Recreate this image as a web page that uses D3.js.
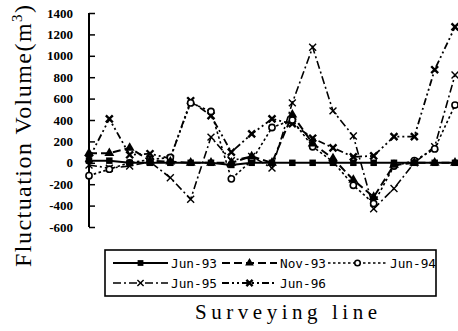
<!DOCTYPE html>
<html>
<head>
<meta charset="utf-8">
<script src="https://cdn.jsdelivr.net/npm/d3@7"></script>
<style>
body{margin:0;background:#fff}
svg{display:block}
</style>
</head>
<body>
<div id="chart"></div>
<script>
// values (m3), 19 surveying lines
let lineIndex=d3.range(19)
let jun93=[20,20,0,0,0,0,0,-20,0,0,0,0,0,0,0,0,0,0,0]
let nov93=[90,90,140,20,10,0,0,0,60,0,450,180,40,-160,-320,-20,0,0,0]
let jun94=[-120,-60,0,30,50,560,480,-150,20,330,400,150,10,-210,-380,-30,20,130,540]
let jun95=[-20,-50,-30,10,-140,-340,240,20,60,-50,560,1080,485,250,-430,-240,0,150,820]
let jun96=[40,410,75,85,40,580,440,100,270,410,365,230,140,55,65,245,245,870,1270]
let yTicks=[1400,1200,1000,800,600,400,200,0,-200,-400,-600]
let seriesNames=["Jun-93","Nov-93","Jun-94","Jun-95","Jun-96"]

const width=458, height=331
const svg=d3.select("#chart").append("svg").attr("width",width).attr("height",height)

let xScale=d3.scaleLinear().domain([0,18]).range([89,455])
let yScale=d3.scaleLinear().domain([-600,1400]).range([227,13])

// y axis with inward ticks
let yAxis=d3.axisRight(yScale).tickValues(yTicks).tickSize(6).tickFormat("")
let gy=svg.append("g").attr("transform","translate(89,0)").call(yAxis)
gy.select(".domain").attr("d","M0,13V227").attr("stroke","#000").attr("stroke-width",2)
gy.selectAll(".tick line").attr("stroke","#000").attr("stroke-width",1.5)
yTicks.forEach(v=>{
    svg.append("text").attr("x",73).attr("y",yScale(v)+4.5).attr("text-anchor","end")
       .attr("font-family","Liberation Serif").attr("font-size",13).attr("font-weight","bold").text(v)
})

// cross marker, thin or bold
const cross={draw(ctx,size){let r=Math.sqrt(size)/2;ctx.moveTo(-r,-r);ctx.lineTo(r,r);ctx.moveTo(r,-r);ctx.lineTo(-r,r)}}

let styles=[
    {data:jun93,dash:null,w:2,sym:d3.symbolSquare,size:42,fill:"#000",sw:0},
    {data:nov93,dash:"8,4",w:2,sym:d3.symbolTriangle,size:42,fill:"#000",sw:0},
    {data:jun94,dash:"2.5,2.5",w:1.6,sym:d3.symbolCircle,size:30,fill:"#fff",sw:1.6},
    {data:jun95,dash:"8,3,2,3",w:1.6,sym:cross,size:48,fill:"none",sw:1.4},
    {data:jun96,dash:"7,3,2,3,2,3",w:1.8,sym:cross,size:48,fill:"none",sw:2.4}
]

let line=d3.line().x((d,i)=>xScale(i)).y(d=>yScale(d))

// draw lines first, markers on top
styles.slice().reverse().forEach(s=>{
    svg.append("path").datum(s.data).attr("d",line).attr("fill","none")
       .attr("stroke","#000").attr("stroke-width",s.w).attr("stroke-dasharray",s.dash)
})
styles.slice().reverse().forEach(s=>{
    svg.selectAll(null).data(s.data).enter().append("path")
       .attr("transform",(d,i)=>`translate(${xScale(i)},${yScale(d)})`)
       .attr("d",d3.symbol().type(s.sym).size(s.size))
       .attr("fill",s.fill).attr("stroke","#000").attr("stroke-width",s.sw)
})

// legend
let legend=svg.append("g")
legend.append("rect").attr("x",105).attr("y",250).attr("width",331).attr("height",46)
      .attr("fill","#fff").attr("stroke","#000").attr("stroke-width",1.6)
let legendPos=[[113,263],[222,263],[328,263],[113,283],[222,283]]
styles.forEach((s,i)=>{
    let [lx,ly]=legendPos[i]
    let len=i==2?59:55
    legend.append("line").attr("x1",lx).attr("x2",lx+len).attr("y1",ly).attr("y2",ly)
          .attr("stroke","#000").attr("stroke-width",s.w).attr("stroke-dasharray",s.dash)
    legend.append("path").attr("transform",`translate(${lx+len/2},${ly})`)
          .attr("d",d3.symbol().type(s.sym).size(s.size*0.8))
          .attr("fill",s.fill).attr("stroke","#000").attr("stroke-width",s.sw)
    legend.append("text").attr("x",lx+len+3).attr("y",ly+4.5)
          .attr("font-family","DejaVu Sans Mono").attr("font-size",12.5)
          .attr("textLength",46).attr("lengthAdjust","spacingAndGlyphs").text(seriesNames[i])
})

// axis titles
svg.append("text").attr("x",286).attr("y",319).attr("text-anchor","middle")
   .attr("font-family","Liberation Serif").attr("font-size",21)
   .attr("textLength",182).attr("lengthAdjust","spacing").text("Surveying line")
let yt=svg.append("text").attr("transform","translate(31,136) rotate(-90)").attr("text-anchor","middle")
   .attr("font-family","Liberation Serif").attr("font-size",24)
   .attr("textLength",262).attr("lengthAdjust","spacing")
yt.append("tspan").text("Fluctuation Volume(m")
yt.append("tspan").attr("font-size",15).attr("dy",-9).text("3")
yt.append("tspan").attr("dy",9).text(")")
</script>
</body>
</html>
